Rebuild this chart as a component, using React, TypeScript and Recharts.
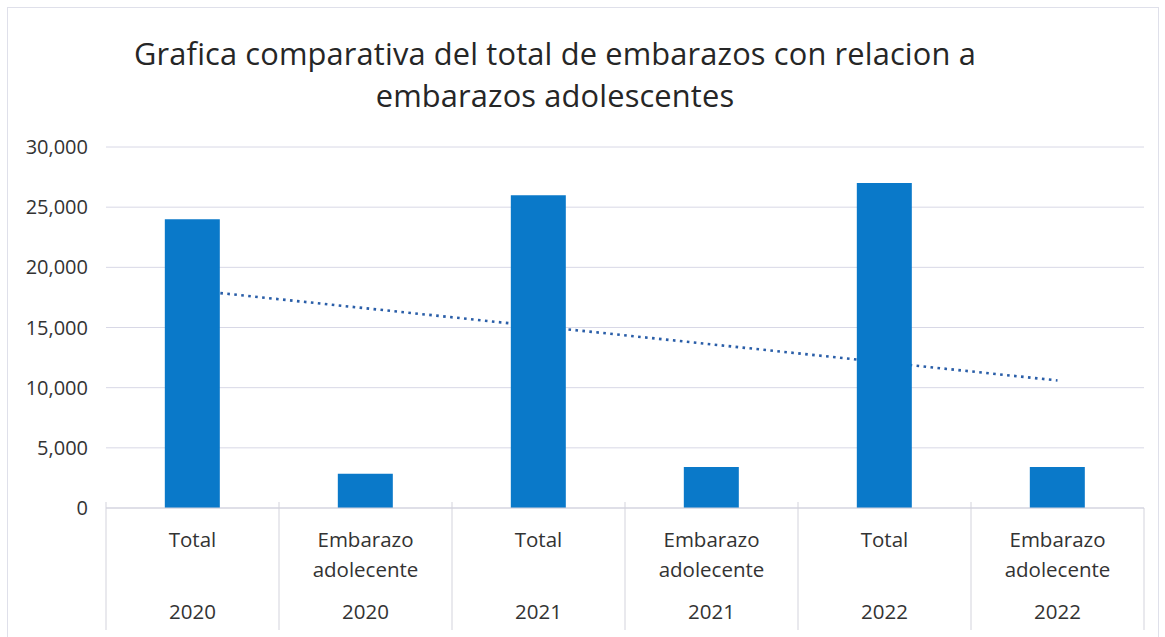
import { Bar, ComposedChart, CartesianGrid, Line, XAxis, YAxis } from "recharts";

const categories = ["Total", "Embarazo adolecente", "Total", "Embarazo adolecente", "Total", "Embarazo adolecente"];
const years = ["2020", "2020", "2021", "2021", "2022", "2022"];
const values = [24000, 2850, 26000, 3400, 27000, 3400];
// linear trend at its two ends
const trend: (number | null)[] = [18100, null, null, null, null, 10600];
const yTicks = [0, 5000, 10000, 15000, 20000, 25000, 30000];

const W = 1165;
const H = 637;
const margin = { top: 147, right: 21, bottom: 7, left: 0 };
const Y_W = 106;
const X_H = 122;
const BAND = (W - margin.left - margin.right - Y_W) / categories.length;
const FONT = "'Open Sans', Lato, sans-serif";

const data = categories.map((c, i) => ({
  key: `${c}|${years[i]}`,
  value: values[i],
  trend: trend[i],
}));

const sepColor = "#d3d3dc";

function CatTick(props: any) {
  const { x, y, index } = props;
  const words = categories[index].split(" ");
  const half = BAND / 2;
  const last = index === categories.length - 1;
  return (
    <g>
      <line x1={x - half} x2={x - half} y1={y - 6} y2={y + X_H} stroke={sepColor} strokeWidth={1} />
      {last && <line x1={x + half} x2={x + half} y1={y} y2={y + X_H} stroke={sepColor} strokeWidth={1} />}
      {words.map((w, k) => (
        <text key={k} x={x} y={y + 39 + k * 30} textAnchor="middle" fontSize={20.5} fontFamily={FONT} fill="#333">
          {w}
        </text>
      ))}
      <text x={x} y={y + 111} textAnchor="middle" fontSize={20.5} fontFamily={FONT} fill="#333">
        {years[index]}
      </text>
    </g>
  );
}

export default function App() {
  return (
    <div style={{ position: "absolute", left: 0, top: 0, width: W, height: H, background: "#fff", fontFamily: FONT }}>
      <div
        style={{
          position: "absolute",
          left: 7,
          top: 7,
          width: 1152,
          height: 640,
          border: "1px solid #dfe0ea",
          boxSizing: "border-box",
        }}
      />
      <div
        style={{
          position: "absolute",
          left: 0,
          width: 1110,
          top: 32,
          textAlign: "center",
          fontSize: 30.8,
          letterSpacing: 0.15,
          lineHeight: "42px",
          color: "#262626",
        }}
      >
        Grafica comparativa del total de embarazos con relacion a
        <br />
        embarazos adolescentes
      </div>
      <ComposedChart width={W} height={H} data={data} margin={margin} barCategoryGap="34%">
        <CartesianGrid vertical={false} stroke="#d8d8e6" />
        <XAxis
          dataKey="key"
          height={X_H}
          tickLine={false}
          tickSize={0}
          tickMargin={0}
          axisLine={{ stroke: sepColor }}
          interval={0}
          tick={<CatTick />}
        />
        <YAxis
          width={Y_W}
          domain={[0, 30000]}
          ticks={yTicks}
          tickLine={false}
          axisLine={false}
          tickSize={0}
          tickMargin={18}
          tickFormatter={(v: number) => v.toLocaleString("en-US")}
          tick={{ fontSize: 20, fill: "#333", fontFamily: FONT }}
        />
        <Line
          dataKey="trend"
          connectNulls
          stroke="#2a5ea8"
          strokeWidth={2.6}
          strokeDasharray="2.6 4.4"
          dot={false}
          activeDot={false}
          isAnimationActive={false}
          zIndex={0}
        />
        <Bar dataKey="value" fill="#0a79c9" isAnimationActive={false} />
      </ComposedChart>
    </div>
  );
}
